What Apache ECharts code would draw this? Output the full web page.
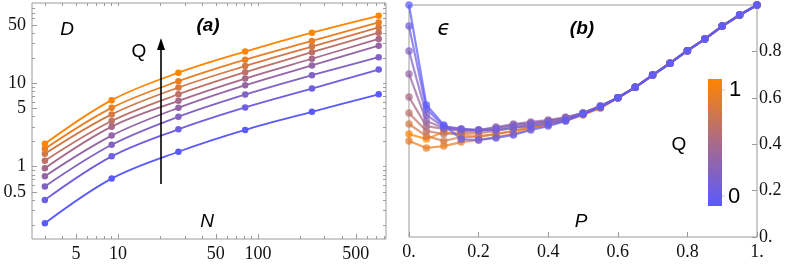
<!DOCTYPE html>
<html><head><meta charset="utf-8">
<script src="https://cdn.jsdelivr.net/npm/echarts@6/dist/echarts.min.js"></script>
<style>html,body{margin:0;padding:0;background:#fff}#c{width:789px;height:269px}</style>
</head><body><div id="c"></div>
<script>
// ---------- data ----------
const Q_VALUES = [0, 0.125, 0.25, 0.375, 0.5, 0.625, 0.75, 0.875, 1];
const N_VALUES = [3, 9, 27, 81, 243, 729];
// D vs N, one array per Q (bottom/blue -> top/orange)
const D_Q0 = [0.21, 0.72, 1.51, 2.76, 4.55, 7.39];
const D_Q1 = [0.40, 1.33, 2.81, 5.14, 8.65, 14.6];
const D_Q2 = [0.58, 1.83, 3.97, 7.33, 12.5, 20.6];
const D_Q3 = [0.77, 2.36, 5.08, 9.47, 16.4, 28.3];
const D_Q4 = [0.96, 3.02, 6.16, 11.4, 19.7, 34.0];
const D_Q5 = [1.18, 3.53, 7.39, 13.6, 23.6, 40.5];
const D_Q6 = [1.43, 4.24, 8.89, 16.1, 27.6, 46.8];
const D_Q7 = [1.64, 5.08, 10.6, 19.2, 32.2, 53.7];
const D_Q8 = [1.88, 6.28, 13.4, 24.0, 40.5, 64.5];

const P_VALUES = [0, 0.05, 0.1, 0.15, 0.2, 0.25, 0.3, 0.35, 0.4, 0.45, 0.5, 0.55, 0.6, 0.65, 0.7, 0.75, 0.8, 0.85, 0.9, 0.95, 1];
const E_Q0 = [1.000, 0.569, 0.483, 0.422, 0.418, 0.427, 0.440, 0.461, 0.478, 0.500, 0.530, 0.560, 0.600, 0.645, 0.698, 0.749, 0.803, 0.853, 0.909, 0.957, 1.000];
const E_Q1 = [0.909, 0.552, 0.478, 0.466, 0.461, 0.461, 0.470, 0.478, 0.491, 0.504, 0.530, 0.560, 0.600, 0.645, 0.698, 0.749, 0.803, 0.853, 0.909, 0.957, 1.000];
const E_Q2 = [0.802, 0.526, 0.474, 0.466, 0.461, 0.470, 0.483, 0.491, 0.500, 0.513, 0.534, 0.565, 0.600, 0.645, 0.698, 0.749, 0.803, 0.853, 0.909, 0.957, 1.000];
const E_Q3 = [0.703, 0.500, 0.470, 0.461, 0.461, 0.474, 0.487, 0.496, 0.504, 0.517, 0.534, 0.565, 0.600, 0.645, 0.698, 0.749, 0.803, 0.853, 0.909, 0.957, 1.000];
const E_Q4 = [0.603, 0.478, 0.466, 0.457, 0.457, 0.466, 0.478, 0.487, 0.500, 0.513, 0.534, 0.565, 0.600, 0.645, 0.698, 0.749, 0.803, 0.853, 0.909, 0.957, 1.000];
const E_Q5 = [0.534, 0.457, 0.444, 0.448, 0.448, 0.457, 0.470, 0.483, 0.496, 0.509, 0.530, 0.560, 0.600, 0.645, 0.698, 0.749, 0.803, 0.853, 0.909, 0.957, 1.000];
const E_Q6 = [0.487, 0.435, 0.414, 0.431, 0.431, 0.444, 0.457, 0.474, 0.487, 0.504, 0.530, 0.560, 0.600, 0.645, 0.698, 0.749, 0.803, 0.853, 0.909, 0.957, 1.000];
const E_Q7 = [0.414, 0.384, 0.392, 0.409, 0.418, 0.431, 0.444, 0.466, 0.483, 0.500, 0.526, 0.556, 0.600, 0.645, 0.698, 0.749, 0.803, 0.853, 0.909, 0.957, 1.000];
const E_Q8 = [0.444, 0.422, 0.453, 0.440, 0.435, 0.444, 0.457, 0.470, 0.487, 0.504, 0.530, 0.556, 0.600, 0.645, 0.698, 0.749, 0.803, 0.853, 0.909, 0.957, 1.000];

const D_TICKS = [0.5, 1, 5, 10, 50];
const D_MINOR = [0.2, 0.3, 0.4, 0.6, 0.7, 0.8, 0.9, 2, 3, 4, 6, 7, 8, 9, 20, 30, 40, 60, 70, 80];
const N_TICKS = [5, 10, 50, 100, 500];
const N_MINOR = [3, 4, 6, 7, 8, 9, 20, 30, 40, 60, 70, 80, 90, 200, 300, 400, 600, 700, 800];
const P_TICKS = [0, 0.2, 0.4, 0.6, 0.8, 1];
const E_TICKS = [0, 0.2, 0.4, 0.6, 0.8];

const D_ALL = [D_Q0, D_Q1, D_Q2, D_Q3, D_Q4, D_Q5, D_Q6, D_Q7, D_Q8];
const E_ALL = [E_Q0, E_Q1, E_Q2, E_Q3, E_Q4, E_Q5, E_Q6, E_Q7, E_Q8];

// ---------- styling ----------
const STOPS = [[0, [90, 90, 255]], [0.5, [168, 106, 138]], [1, [255, 133, 0]]];
function qColor(q) {
  let a = STOPS[0], b = STOPS[1];
  if (q > 0.5) { a = STOPS[1]; b = STOPS[2]; }
  const t = (q - a[0]) / (b[0] - a[0]);
  const c = a[1].map((v, i) => Math.round(v + (b[1][i] - v) * t));
  return 'rgb(' + c.join(',') + ')';
}
const L = v => Math.log10(v);
const SERIF = 'Liberation Serif';
const SANS = 'Liberation Sans';
const FRAME = '#9a9a9a';
const fmtLog = v => String(+Math.pow(10, v).toPrecision(3));
const fmtLin = v => (v === 0 ? '0.' : v === 1 ? '1.' : String(v));

function ax(base) {
  return Object.assign({
    type: 'value', splitLine: { show: false },
    axisLine: { show: false, onZero: false }
  }, base);
}
const tickStyle = { color: FRAME, width: 1 };
const labelStyle = { fontFamily: SERIF, fontSize: 18, color: '#111' };

const LX = [0.385, 2.915], LY = [-0.867, 1.963];

const xAxes = [
  ax({ gridIndex: 0, min: LX[0], max: LX[1], position: 'bottom',
    axisTick: { inside: true, length: 5, lineStyle: tickStyle, customValues: N_TICKS.map(L) },
    axisLabel: Object.assign({ customValues: N_TICKS.map(L), formatter: fmtLog, margin: 6 }, labelStyle) }),
  ax({ gridIndex: 0, min: LX[0], max: LX[1], position: 'bottom',
    axisTick: { inside: true, length: 3, lineStyle: tickStyle, customValues: N_MINOR.map(L) },
    axisLabel: { show: false } }),
  ax({ gridIndex: 0, min: LX[0], max: LX[1], position: 'top',
    axisTick: { inside: true, length: 3, lineStyle: tickStyle, customValues: N_TICKS.concat(N_MINOR).map(L) },
    axisLabel: { show: false } }),
  ax({ gridIndex: 1, min: 0, max: 1, position: 'bottom',
    axisTick: { inside: true, length: 5, lineStyle: tickStyle, customValues: P_TICKS },
    axisLabel: Object.assign({ customValues: P_TICKS, formatter: fmtLin, margin: 6 }, labelStyle) })
];
const yAxes = [
  ax({ gridIndex: 0, min: LY[0], max: LY[1], position: 'left',
    axisTick: { inside: true, length: 5, lineStyle: tickStyle, customValues: D_TICKS.map(L) },
    axisLabel: Object.assign({ customValues: D_TICKS.map(L), formatter: fmtLog, margin: 6 }, labelStyle) }),
  ax({ gridIndex: 0, min: LY[0], max: LY[1], position: 'left',
    axisTick: { inside: true, length: 3, lineStyle: tickStyle, customValues: D_MINOR.map(L) },
    axisLabel: { show: false } }),
  ax({ gridIndex: 0, min: LY[0], max: LY[1], position: 'right',
    axisTick: { inside: true, length: 3, lineStyle: tickStyle, customValues: D_TICKS.concat(D_MINOR).map(L) },
    axisLabel: { show: false } }),
  ax({ gridIndex: 1, min: 0, max: 1, position: 'right',
    axisTick: { inside: true, length: 5, lineStyle: tickStyle, customValues: E_TICKS },
    axisLabel: Object.assign({ customValues: E_TICKS, formatter: fmtLin, margin: 2, align: 'left' }, labelStyle) })
];

const series = [];
D_ALL.forEach((arr, k) => {
  const col = qColor(Q_VALUES[k]);
  series.push({
    type: 'line', xAxisIndex: 0, yAxisIndex: 0, smooth: 0.35,
    symbol: 'circle', symbolSize: 6.5, showSymbol: true,
    itemStyle: { color: col }, lineStyle: { color: col, width: 1.8 },
    data: N_VALUES.map((n, i) => [L(n), L(arr[i])])
  });
});
// right panel: orange drawn first, blue last, slightly translucent so overlaps blend
for (let k = E_ALL.length - 1; k >= 0; k--) {
  const arr = E_ALL[k];
  const col = qColor(Q_VALUES[k]);
  series.push({
    type: 'line', xAxisIndex: 3, yAxisIndex: 3,
    symbol: 'circle', symbolSize: 7.5, showSymbol: true,
    itemStyle: { color: col, opacity: 0.72 }, lineStyle: { color: col, width: 2.2, opacity: 0.72 },
    data: P_VALUES.map((p, i) => [p, arr[i]])
  });
}

const txt = (x, y, text, extra) => ({
  type: 'text', x: x, y: y, z: 100,
  style: Object.assign({ text: text, fill: '#000', fontFamily: SANS, fontSize: 19,
    align: 'center', verticalAlign: 'middle' }, extra || {})
});

const graphic = [
  txt(67, 30, 'D', { fontStyle: 'italic' }),
  txt(208, 26, '(a)', { fontWeight: 'bold', fontStyle: 'italic' }),
  txt(139, 52, 'Q'),
  txt(207, 222, 'N', { fontStyle: 'italic' }),
  { type: 'line', z: 100, shape: { x1: 161, y1: 184, x2: 161, y2: 48 }, style: { stroke: '#000', lineWidth: 1.6 } },
  { type: 'polygon', z: 100, shape: { points: [[161, 38], [157, 50], [165, 50]] }, style: { fill: '#000' } },
  txt(444, 30, 'ϵ', { fontSize: 21, fontFamily: 'DejaVu Sans', fontStyle: 'italic' }),
  txt(582, 29, '(b)', { fontWeight: 'bold', fontStyle: 'italic' }),
  txt(581, 222, 'P', { fontStyle: 'italic' }),
  txt(679, 145, 'Q'),
  { type: 'rect', z: 100, shape: { x: 708, y: 79, width: 14, height: 127 },
    style: { fill: new echarts.graphic.LinearGradient(0, 0, 0, 1, [
      { offset: 0, color: qColor(1) }, { offset: 0.5, color: qColor(0.5) }, { offset: 1, color: qColor(0) }]) } },
  { type: 'line', z: 100, shape: { x1: 722, y1: 90, x2: 725, y2: 90 }, style: { stroke: '#ccc', lineWidth: 1 } },
  { type: 'line', z: 100, shape: { x1: 722, y1: 196, x2: 725, y2: 196 }, style: { stroke: '#ccc', lineWidth: 1 } },
  txt(735, 90, '1', { fontSize: 22 }),
  txt(734, 197, '0', { fontSize: 22 })
];

const chart = echarts.init(document.getElementById('c'), null, { renderer: 'canvas' });
chart.setOption({
  animation: false,
  backgroundColor: '#fff',
  grid: [
    { left: 32, top: 3, width: 354, height: 236, show: true, borderColor: FRAME, borderWidth: 1, backgroundColor: 'transparent' },
    { left: 409, top: 5, width: 348, height: 232, show: true, borderColor: FRAME, borderWidth: 1, backgroundColor: 'transparent' }
  ],
  xAxis: xAxes,
  yAxis: yAxes,
  series: series,
  graphic: graphic
});
</script>
</body></html>
